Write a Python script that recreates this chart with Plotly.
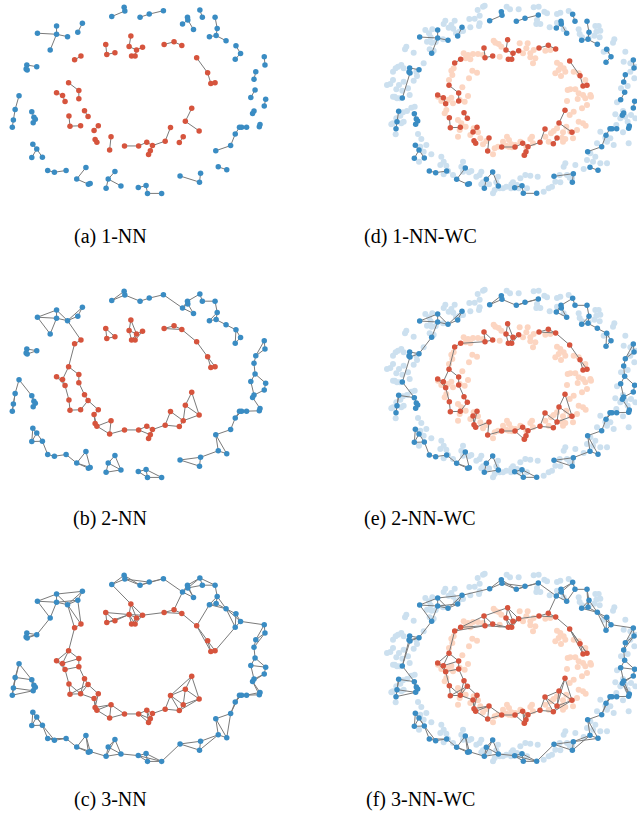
import numpy as np
import plotly.graph_objects as go

# ---------------- labelled samples ----------------
# outer ring (class 0)
blue_x = [329, 364, 366, 409, 435, 475, 119, 173, 173, 155, 204, 233, 246, 543, 544, 529, 560, 578, 585, 621,
          627, 624, 605, 652, 680, 693, 678, 89, 87, 90, 117, 67, 56, 51, 48, 103, 109, 113, 107, 106,
          117, 103, 133, 148, 167, 200, 256, 230, 263, 268, 338, 319, 313, 355, 404, 426, 430, 470, 522, 580,
          577, 665, 623, 630, 654, 678, 690, 696, 710, 746, 748, 727, 731, 760, 764, 722, 734, 731, 736, 762, 760]
blue_y = [62, 35, 46, 64, 55, 45, 111, 90, 114, 160, 121, 108, 82, 64, 72, 84, 100, 43, 64, 64,
          97, 118, 121, 133, 148, 170, 187, 204, 216, 219, 209, 294, 334, 365, 386, 341, 357, 363, 373, 436,
          450, 475, 474, 513, 518, 513, 504, 538, 553, 551, 516, 538, 565, 558, 563, 557, 580, 580, 529, 521,
          547, 440, 455, 502, 511, 406, 386, 386, 386, 385, 378, 346, 339, 324, 304, 299, 277, 246, 224, 204, 180]
# inner ring (class 1)
red_x = [312, 315, 338, 383, 378, 399, 416, 385, 395, 224, 242, 477, 505, 527, 569, 600, 609, 621, 207, 236,
         236, 173, 190, 197, 208, 211, 241, 252, 262, 291, 279, 282, 287, 327, 323, 365, 405, 428, 444, 438,
         433, 480, 520, 531, 576, 495, 537, 555]
red_y = [144, 173, 168, 119, 150, 160, 152, 178, 178, 189, 178, 144, 136, 147, 183, 227, 258, 256, 256, 279,
         303, 285, 293, 311, 353, 383, 382, 338, 355, 382, 396, 422, 430, 414, 453, 441, 441, 430, 440, 455,
         466, 427, 431, 414, 397, 387, 369, 331]

# ---------------- unlabelled samples ----------------
bg_blue_x = [309, 314, 293, 299, 284, 268, 299, 271, 297, 224, 214, 196, 191, 206, 220, 228, 238, 249,
             157, 147, 136, 141, 155, 167, 189, 149, 161, 152, 101, 79, 75, 64, 54, 47, 71, 39, 109, 111, 101, 131,
             39, 31, 21, 57, 71, 84, 49, 67, 44, 59, 89,
             416, 461, 476, 493, 501, 471, 469, 481, 531, 541, 566, 531, 509, 551, 596, 599, 606, 626,
             646, 656, 649, 661, 643, 659, 703, 699, 671, 681, 736, 731, 751, 766, 751, 763, 743, 723,
             39, 51, 94, 104, 81, 69, 61, 49, 39, 34, 71, 64, 47, 114, 124, 139, 121, 131, 154, 117,
             184, 191, 181, 199, 249, 244, 249, 219, 191, 204, 267, 274, 289, 304, 299, 309, 327, 349, 354,
             359, 369, 379, 394, 339, 344, 304,
             711, 729, 706, 721, 736, 753, 743, 766, 709, 661, 676, 681, 691, 701, 651, 746, 729,
             631, 646, 639, 661, 621, 611, 586, 551, 556, 561, 539, 569, 576, 516, 506, 491,
             436, 451, 473, 421, 411, 416, 441, 399, 393, 526, 541, 681, 380, 390]
bg_blue_y = [20, 17, 30, 47, 56, 57, 70, 82, 78, 62, 75, 62, 72, 83, 86, 100, 95, 93,
             88, 100, 90, 125, 128, 126, 118, 148, 152, 112, 158, 140, 148, 195, 200, 205, 205, 215, 215, 228, 242, 190,
             240, 252, 255, 255, 245, 265, 268, 272, 290, 295, 285,
             28, 22, 20, 35, 40, 60, 72, 72, 42, 38, 33, 68, 82, 88, 88, 102, 112, 115,
             78, 78, 95, 92, 107, 112, 118, 128, 155, 152, 155, 185, 190, 200, 215, 235, 258, 265,
             290, 295, 323, 320, 333, 337, 347, 355, 370, 373, 365, 370, 403, 402, 417, 435, 440, 455, 463, 485,
             470, 485, 495, 497, 485, 500, 515, 525, 523, 513, 517, 513, 530, 515, 525, 547, 553, 547, 530,
             565, 565, 560, 553, 580, 570, 553,
             307, 333, 343, 355, 350, 345, 365, 355, 375, 395, 413, 425, 415, 435, 430, 430, 397,
             460, 470, 485, 490, 480, 507, 495, 500, 490, 525, 525, 533, 535, 560, 565, 575,
             525, 527, 530, 535, 555, 565, 565, 547, 565, 545, 547, 490, 20, 28]
bg_red_x = [341, 346, 356, 364, 359, 309, 294, 279, 264, 251, 257, 271, 214, 221, 217, 207, 277, 291, 267, 247, 264,
            419, 443, 439, 429, 451, 461, 451, 466, 459, 496, 511, 531, 541, 551, 536, 526, 543, 556, 581, 596,
            571, 563, 586, 596, 609, 631, 616,
            174, 184, 204, 214, 219, 239, 254, 199, 194, 234, 244, 239, 257, 234, 271, 281, 294, 301, 309, 319,
            339, 344, 354, 381, 387, 369, 379, 394,
            561, 593, 616, 633, 606, 621, 581, 569, 596, 609, 617, 591, 571, 559, 549, 546, 556, 579, 549,
            531, 521, 513, 496, 506, 456, 451, 459, 439, 421, 406, 386, 396, 433]
bg_red_y = [122, 128, 132, 140, 170, 165, 162, 162, 165, 160, 175, 178, 212, 205, 225, 240, 212, 218, 235, 262, 288,
            130, 130, 145, 160, 160, 150, 172, 175, 190, 152, 150, 188, 195, 205, 210, 220, 228, 215, 215, 220,
            268, 270, 268, 280, 285, 285, 240,
            290, 303, 300, 293, 310, 300, 305, 330, 340, 360, 370, 390, 380, 410, 405, 385, 397, 415, 433, 423,
            463, 445, 440, 410, 420, 425, 437, 433,
            303, 297, 295, 290, 325, 315, 335, 345, 365, 370, 377, 390, 395, 380, 397, 413, 417, 415, 425,
            385, 393, 400, 410, 425, 410, 417, 430, 440, 425, 435, 440, 442, 465]

captions = ["(a) 1-NN", "(b) 2-NN", "(c) 3-NN", "(d) 1-NN-WC", "(e) 2-NN-WC", "(f) 3-NN-WC"]
k_values = [1, 2, 3]

# ---------------- colours ----------------
C_BLUE = "#3a8cc3"
C_RED = "#d6543d"
C_BLUE_LIGHT = "#cce0ef"
C_RED_LIGHT = "#fcd5c1"
C_EDGE = "#7a7a7a"

# ---------------- graphs ----------------
lab = np.column_stack([blue_x + red_x, blue_y + red_y]).astype(float)
n_lab = len(lab)
bg = np.column_stack([bg_blue_x + bg_red_x, bg_blue_y + bg_red_y]).astype(float)
allp = np.vstack([lab, bg])


def pairwise(p):
    d = p[:, None, :] - p[None, :, :]
    return np.sqrt((d ** 2).sum(-1))


def knn_edges(dist, k):
    edges = set()
    for i in range(len(dist)):
        order = np.argsort(dist[i])
        cnt = 0
        for j in order:
            if j == i or not np.isfinite(dist[i, j]):
                continue
            edges.add((min(i, j), max(i, j)))
            cnt += 1
            if cnt == k:
                break
    return sorted(edges)


d_lab = pairwise(lab)

# geodesic distance over the neighbourhood graph of every sample
d_all = pairwise(allp)
n_all = len(allp)
G = np.full((n_all, n_all), np.inf)
np.fill_diagonal(G, 0.0)
for i in range(n_all):
    nb = np.argsort(d_all[i])[1:7]
    G[i, nb] = d_all[i, nb]
    G[nb, i] = d_all[i, nb]
for m in range(n_all):
    G = np.minimum(G, G[:, m:m + 1] + G[m:m + 1, :])
d_geo = G[:n_lab, :n_lab]

# ---------------- layout of the six panels ----------------
W, H = 637, 816
row_top = [0, 284, 568]
panel_h = 200
col_px = [(0, 300), (380, 637)]
x_ranges = [[13.2, 861.0], [0, 771]]
y_ranges = [[599.3, 13.7], [600, 0]]
caption_x = [110, 420]
caption_y = [236, 518, 799]

fig = go.Figure()
layout = dict(width=W, height=H, margin=dict(l=0, r=0, t=0, b=0),
              paper_bgcolor="white", plot_bgcolor="white", showlegend=False)
annotations = []

panel = 0
for col in range(2):
    for row in range(3):
        panel += 1
        ax = "" if panel == 1 else str(panel)
        x0, x1 = col_px[col]
        t = row_top[row]
        layout["xaxis" + ax] = dict(domain=[x0 / W, x1 / W], range=x_ranges[col], visible=False,
                                    fixedrange=True, anchor="y" + ax)
        layout["yaxis" + ax] = dict(domain=[1 - (t + panel_h) / H, 1 - t / H], range=y_ranges[col],
                                    visible=False, fixedrange=True, anchor="x" + ax)
        xa, ya = "x" + ax, "y" + ax
        k = k_values[row]
        if col == 1:
            fig.add_trace(go.Scatter(x=bg_blue_x, y=bg_blue_y, mode="markers", xaxis=xa, yaxis=ya,
                                     marker=dict(size=6, color=C_BLUE_LIGHT), hoverinfo="skip"))
            fig.add_trace(go.Scatter(x=bg_red_x, y=bg_red_y, mode="markers", xaxis=xa, yaxis=ya,
                                     marker=dict(size=6, color=C_RED_LIGHT), hoverinfo="skip"))
            edges = knn_edges(d_geo, k)
        else:
            edges = knn_edges(d_lab, k)
        ex, ey = [], []
        for i, j in edges:
            ex += [lab[i, 0], lab[j, 0], None]
            ey += [lab[i, 1], lab[j, 1], None]
        fig.add_trace(go.Scatter(x=ex, y=ey, mode="lines", xaxis=xa, yaxis=ya,
                                 line=dict(color=C_EDGE, width=1), hoverinfo="skip"))
        fig.add_trace(go.Scatter(x=blue_x, y=blue_y, mode="markers", xaxis=xa, yaxis=ya,
                                 marker=dict(size=5.5, color=C_BLUE)))
        fig.add_trace(go.Scatter(x=red_x, y=red_y, mode="markers", xaxis=xa, yaxis=ya,
                                 marker=dict(size=5.5, color=C_RED)))
        annotations.append(dict(text=captions[panel - 1], xref="paper", yref="paper",
                                x=caption_x[col] / W, y=1 - caption_y[row] / H,
                                xanchor="center", yanchor="middle", showarrow=False,
                                font=dict(family="Liberation Serif", size=20, color="black")))

layout["annotations"] = annotations
fig.update_layout(**layout)
fig.write_html("out.html")
